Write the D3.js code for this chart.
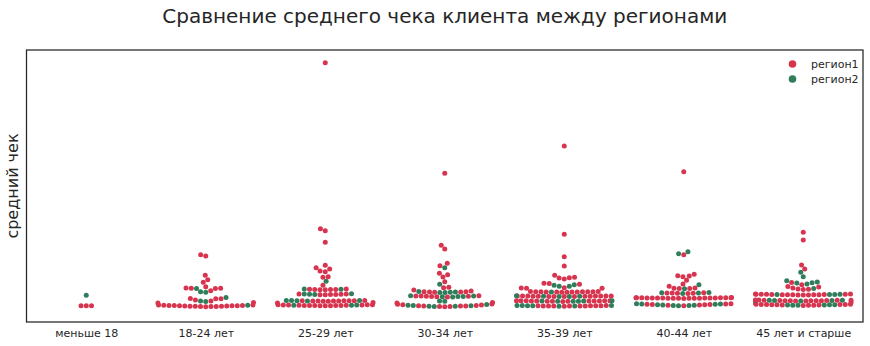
<!DOCTYPE html>
<html>
<head>
<meta charset="utf-8">
<script src="https://cdn.jsdelivr.net/npm/d3@7"></script>
<style>
  body { margin: 0; background: #ffffff; }
  svg { display: block; }
</style>
</head>
<body>
<svg id="chart" width="870" height="346"></svg>
<script>
// Age groups on the x axis
const categories = ["меньше 18", "18-24 лет", "25-29 лет", "30-34 лет", "35-39 лет", "40-44 лет", "45 лет и старше"];
const seriesNames = ["регион1", "регион2"];

// Average check per client (thousand rubles), one list per age group
const region1 = [
  [1.63, 1.63, 1.63],
  [1.530, 1.540, 1.549, 1.558, 1.568, 1.577, 1.587, 1.596, 1.605, 1.615, 1.624, 1.634, 1.643, 1.652, 1.662, 1.681, 1.690, 1.700, 1.90, 1.94,
   2.32, 2.34, 2.11, 2.20, 2.33, 3.36, 3.38, 3.13, 3.37, 3.39, 3.53, 3.97, 4.23, 4.67, 6.60, 6.73],
  [1.620, 1.626, 1.632, 1.638, 1.644, 1.650, 1.656, 1.662, 1.668, 1.674, 1.698, 1.704, 1.710, 1.716, 1.722, 1.728, 1.90, 1.95,
   2.080, 2.085, 2.090, 2.095, 2.100, 2.105, 2.115, 2.120, 2.125, 2.135, 2.160,
   2.72, 2.73, 2.74, 2.76, 2.78, 2.80, 2.81, 3.22, 3.23, 3.24, 3.25, 3.26, 3.27, 3.30,
   3.67, 4.47, 4.53, 5.03, 5.10, 5.30, 5.43, 5.67, 7.97, 9.13, 9.33, 25.93],
  [1.530, 1.540, 1.550, 1.590, 1.600, 1.610, 1.620, 1.660, 1.700, 1.720, 1.770, 1.800, 1.90, 1.94,
   2.50, 2.53, 2.54, 2.57, 2.58, 2.59, 2.61, 2.62, 2.98, 3.00, 3.01, 3.02, 3.03, 3.10, 3.20,
   3.43, 3.47, 4.03, 4.50, 4.73, 4.87, 5.63, 5.87, 7.30, 7.67, 14.87],
  [1.580, 1.588, 1.592, 1.600, 1.604, 1.608, 1.612, 1.616, 1.620, 1.628, 1.636, 1.644,
   2.060, 2.064, 2.076, 2.084, 2.096, 2.100, 2.104, 2.108, 2.112, 2.116, 2.120, 2.124, 2.128, 2.132,
   2.540, 2.552, 2.556, 2.560, 2.572, 2.576, 2.580, 2.584, 2.588, 2.592, 2.596, 2.600, 2.604, 2.608, 2.612,
   2.980, 2.985, 2.990, 2.995, 3.005, 3.010, 3.015, 3.020, 3.025, 3.030, 3.035, 3.040, 3.045,
   3.37, 3.38, 3.40, 3.43, 3.77, 3.86, 3.87, 4.30, 4.40, 4.43, 4.47, 4.67, 5.60, 6.53, 8.77, 17.60],
  [1.620, 1.680, 1.692, 1.716, 1.740, 1.752, 1.776, 1.812, 1.836,
   2.360, 2.364, 2.368, 2.372, 2.376, 2.380, 2.384, 2.388, 2.392, 2.396, 2.400, 2.404, 2.408, 2.412, 2.416, 2.420, 2.424, 2.428, 2.432, 2.436, 2.440,
   2.86, 2.87, 2.88, 2.89, 2.91, 2.92, 3.35, 3.36, 3.38, 3.40, 3.57, 3.80, 4.17, 4.53, 4.60, 4.63, 4.77, 6.73, 15.03],
  [1.660, 1.672, 1.684, 1.696, 1.702, 1.714, 1.726, 1.738, 1.744, 1.750, 1.760, 1.770, 1.780, 1.90, 1.95,
   2.105, 2.110, 2.115, 2.120, 2.125, 2.130, 2.135, 2.140, 2.145, 2.170, 2.175, 2.180, 2.190, 2.195,
   2.700, 2.705, 2.710, 2.715, 2.720, 2.725, 2.730, 2.735, 2.740, 2.755, 2.765, 2.775, 2.780, 2.785, 2.790, 2.795,
   3.25, 3.28, 3.30, 3.40, 3.50, 3.55, 3.73, 3.95, 5.30, 5.70, 8.20, 8.97]
];

const region2 = [
  [2.67],
  [1.671, 2.09, 2.05, 2.46, 3.35, 3.03, 2.97],
  [1.680, 1.686, 1.692, 2.110, 2.130, 2.140, 2.145, 2.150, 2.75, 2.77, 2.79, 2.82, 3.28, 3.29, 4.07],
  [1.560, 1.570, 1.580, 1.630, 1.645, 1.680, 1.740, 2.07, 2.10,
   2.51, 2.52, 2.55, 2.56, 2.60, 2.63, 2.95, 2.96, 2.97, 2.99, 3.04, 3.77, 5.43],
  [1.584, 1.596, 1.624, 1.632, 1.640, 1.648, 1.652,
   2.068, 2.072, 2.080, 2.088, 2.092, 2.136, 2.544, 2.548, 2.564, 2.568, 2.616,
   3.000, 3.57, 3.58, 3.67, 3.73],
  [1.632, 1.644, 1.656, 1.668, 1.704, 1.728, 1.764, 1.788, 1.800, 1.824,
   2.85, 2.90, 2.93, 2.94, 3.32, 3.73, 6.83, 7.03],
  [1.666, 1.678, 1.690, 1.708, 1.720, 1.732,
   2.100, 2.150, 2.155, 2.160, 2.165, 2.185,
   2.745, 2.750, 2.760, 2.770, 3.35, 3.80, 3.90, 3.92, 4.00, 4.13, 4.53, 4.97]
];

const colors = ["#d7354f", "#2f7d5a"];

const W = 870, H = 346;
const plot = { left: 26.5, right: 863, top: 50, bottom: 322 };
const svg = d3.select("#chart");
const font = "'DejaVu Sans', 'Liberation Sans', sans-serif";
const ink = "#262626";

const x = d3.scalePoint().domain(categories).range([plot.left, plot.right]).padding(0.5);
const y = d3.scaleLinear().domain([0, 27.2]).range([plot.bottom, plot.top]);

const radius = 2.5;
const halfWidth = 0.4 * x.step();

// Beeswarm placement: points sorted by value, each put at the
// candidate closest to the centre line that does not overlap.
function swarm(items, cx) {
  const D = 2 * radius;
  const pts = items.map(d => Object.assign({}, d, { py: y(d.v) }));
  const order = pts.map((d, i) => i).sort((a, b) => pts[a].v - pts[b].v);
  const placed = [];
  order.forEach((idx, n) => {
    const p = pts[idx];
    if (n === 0) { p.px = cx; placed.push(p); return; }
    const nb = [];
    for (let j = placed.length - 1; j >= 0; j--) {
      if (Math.abs(placed[j].py - p.py) < D) nb.push(placed[j]); else break;
    }
    nb.reverse();
    const cand = [cx];
    let leftFirst = true;
    nb.forEach(q => {
      const dy = p.py - q.py;
      const dx = Math.sqrt(Math.max(D * D - dy * dy, 0)) * 1.05;
      if (leftFirst) cand.push(q.px - dx, q.px + dx);
      else cand.push(q.px + dx, q.px - dx);
      leftFirst = !leftFirst;
    });
    const ranked = cand.map((cx0, i) => ({ x: cx0, i }))
      .sort((a, b) => (Math.abs(a.x - cx) - Math.abs(b.x - cx)) || (a.i - b.i));
    let chosen = cx;
    for (const c of ranked) {
      if (nb.every(q => (q.px - c.x) ** 2 + (q.py - p.py) ** 2 >= D * D - 1e-9)) { chosen = c.x; break; }
    }
    p.px = chosen;
    placed.push(p);
  });
  pts.forEach(p => { p.px = Math.max(cx - halfWidth, Math.min(cx + halfWidth, p.px)); });
  return order.map(i => pts[i]);
}

// Frame
svg.append("rect")
  .attr("x", plot.left).attr("y", plot.top)
  .attr("width", plot.right - plot.left).attr("height", plot.bottom - plot.top)
  .attr("fill", "none").attr("stroke", ink).attr("stroke-width", 1.25);

// Points
const dots = svg.append("g");
categories.forEach((cat, ci) => {
  const items = [];
  region1[ci].forEach(v => items.push({ v, s: 0 }));
  region2[ci].forEach(v => items.push({ v, s: 1 }));
  const pts = swarm(items, x(cat));
  dots.selectAll(null).data(pts).enter().append("circle")
    .attr("cx", d => d.px)
    .attr("cy", d => d.py)
    .attr("r", radius)
    .attr("fill", d => colors[d.s]);
});

// X axis labels
const xAxis = svg.append("g")
  .attr("transform", `translate(0,${plot.bottom})`)
  .call(d3.axisBottom(x).tickSize(0).tickPadding(7));
xAxis.select(".domain").remove();
xAxis.selectAll("text")
  .attr("font-family", font).attr("font-size", 11).attr("fill", ink);

// Y axis title
svg.append("text")
  .attr("transform", `translate(18,${(plot.top + plot.bottom) / 2}) rotate(-90)`)
  .attr("text-anchor", "middle")
  .attr("font-family", font).attr("font-size", 16).attr("fill", ink)
  .text("средний чек");

// Chart title
svg.append("text")
  .attr("x", (plot.left + plot.right) / 2).attr("y", 23)
  .attr("text-anchor", "middle")
  .attr("font-family", font).attr("font-size", 20).attr("fill", ink)
  .text("Сравнение среднего чека клиента между регионами");

// Legend
const legend = svg.append("g");
seriesNames.forEach((name, i) => {
  const ly = 64 + i * 15;
  legend.append("circle").attr("cx", 792.5).attr("cy", ly).attr("r", 3.8).attr("fill", colors[i]);
  legend.append("text").attr("x", 811).attr("y", ly + 4)
    .attr("font-family", font).attr("font-size", 11).attr("fill", ink)
    .text(name);
});
</script>
</body>
</html>
